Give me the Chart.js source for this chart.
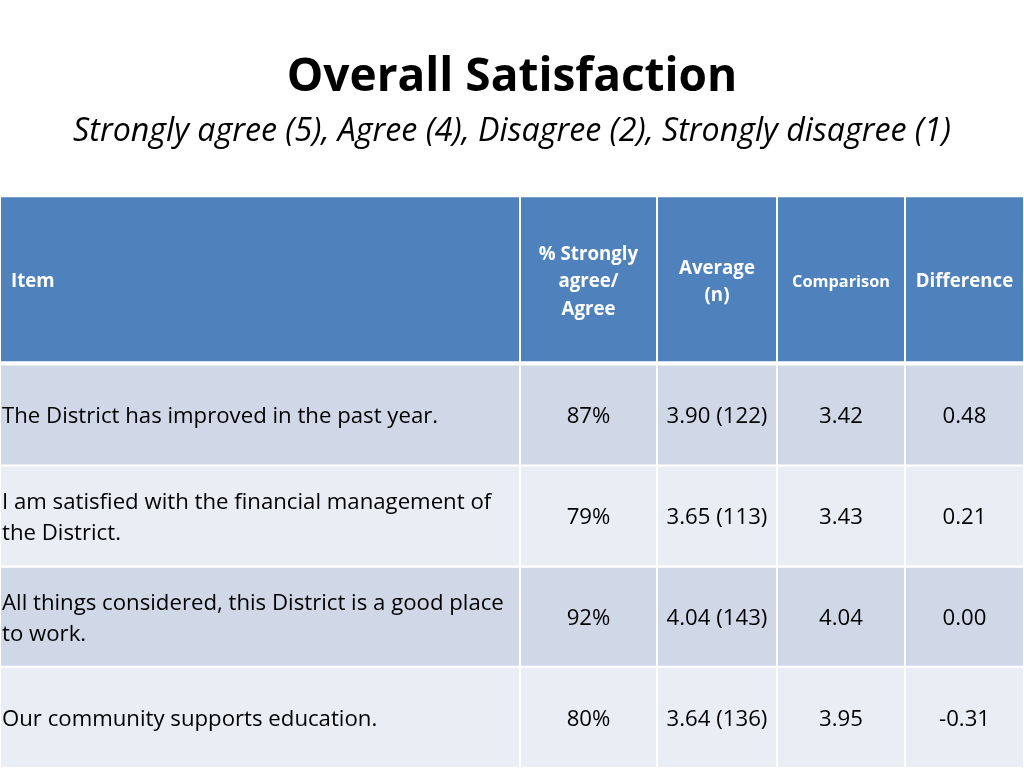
<!DOCTYPE html>
<html>
<head>
<meta charset="utf-8">
<title>Overall Satisfaction</title>
<script src="https://cdn.jsdelivr.net/npm/chart.js@4.4.0/dist/chart.umd.min.js"></script>
<style>
  html, body { margin: 0; padding: 0; background: #fff; }
  #wrap { width: 1024px; height: 768px; position: relative; }
</style>
</head>
<body>
<div id="wrap"><canvas id="tableChart"></canvas></div>
<script>
// Table content
const headers = ['Item', '% Strongly\nagree/\nAgree', 'Average\n(n)', 'Comparison', 'Difference'];
const items = [
    'The District has improved in the past year.',
    'I am satisfied with the financial management of\nthe District.',
    'All things considered, this District is a good place\nto work.',
    'Our community supports education.'
];
const pctAgree = [87, 79, 92, 80];
const averages = [3.90, 3.65, 4.04, 3.64];
const counts = [122, 113, 143, 136];
const comparison = [3.42, 3.43, 4.04, 3.95];
const difference = [0.48, 0.21, 0.00, -0.31];

// Layout of the grid (in scale units, 1 unit = 1px)
const colEdges = [0, 520, 657, 777, 905, 1024];
const rowEdges = [[197, 363], [365, 466], [466, 567], [567, 667], [667, 768]];
const rowColors = ['#4F81BD', '#D0D8E8', '#E9EDF4', '#D0D8E8', '#E9EDF4'];

const FONT = '"Open Sans", Lato, sans-serif';

function rowCenter(r) {
    return (rowEdges[r][0] + rowEdges[r][1]) / 2;
}

// one floating-bar dataset per table row, one bar per cell
const datasets = rowEdges.map((edges, r) => ({
    data: colEdges.slice(0, -1).map((x0, i) => ({ x: [x0, colEdges[i + 1]], y: rowCenter(r) })),
    backgroundColor: rowColors[r],
    borderColor: '#ffffff',
    borderWidth: 1,
    borderSkipped: false,
    inflateAmount: 0,
    barThickness: edges[1] - edges[0],
    stack: 'table'
}));

function bodyCells(r) {
    return [
        items[r],
        pctAgree[r] + '%',
        averages[r].toFixed(2) + ' (' + counts[r] + ')',
        comparison[r].toFixed(2),
        difference[r].toFixed(2)
    ];
}

function drawLines(ctx, text, x, cy, lineH) {
    const lines = text.split('\n');
    const start = cy - (lines.length - 1) * lineH / 2;
    lines.forEach((line, i) => ctx.fillText(line, x, start + i * lineH));
}

// Writes the cell texts at positions taken from the scales
const cellText = {
    id: 'cellText',
    afterDatasetsDraw(chart) {
        const ctx = chart.ctx;
        const xs = chart.scales.x;
        const ys = chart.scales.y;
        ctx.save();
        ctx.textBaseline = 'middle';

        // header row
        ctx.fillStyle = '#ffffff';
        const hy = ys.getPixelForValue(rowCenter(0)) + 3;
        headers.forEach((h, i) => {
            ctx.font = (i === 3 ? 'bold 16.3px ' : 'bold 18.7px ') + FONT;
            if (i === 0) {
                ctx.textAlign = 'left';
                drawLines(ctx, h, xs.getPixelForValue(colEdges[0]) + 11, hy, 27.5);
            } else {
                ctx.textAlign = 'center';
                const cx = xs.getPixelForValue((colEdges[i] + colEdges[i + 1]) / 2);
                drawLines(ctx, h, cx, hy, 27.5);
            }
        });

        // body rows
        ctx.fillStyle = '#000000';
        ctx.font = '22.2px ' + FONT;
        items.forEach((item, r) => {
            const cy = ys.getPixelForValue(rowCenter(r + 1)) + 2;
            bodyCells(r).forEach((txt, i) => {
                if (i === 0) {
                    ctx.textAlign = 'left';
                    drawLines(ctx, txt, xs.getPixelForValue(colEdges[0]) + 2, cy, 31);
                } else {
                    ctx.textAlign = 'center';
                    const cx = xs.getPixelForValue((colEdges[i] + colEdges[i + 1]) / 2);
                    drawLines(ctx, txt, cx, cy, 31);
                }
            });
        });
        ctx.restore();
    }
};

new Chart(document.getElementById('tableChart'), {
    type: 'bar',
    data: { datasets: datasets },
    plugins: [cellText],
    options: {
        indexAxis: 'y',
        responsive: true,
        maintainAspectRatio: false,
        animation: false,
        layout: { padding: 0 },
        scales: {
            x: { type: 'linear', min: 0, max: 1024, display: false, stacked: false, offset: false },
            y: { type: 'linear', min: 197, max: 768, reverse: true, display: false, offset: false, ticks: { maxTicksLimit: 2 } }
        },
        plugins: {
            legend: { display: false },
            tooltip: { enabled: false },
            title: {
                display: true,
                text: 'Overall Satisfaction',
                color: '#000000',
                font: { family: FONT, size: 46, weight: 'bold', lineHeight: 1.2 },
                padding: { top: 50, bottom: 0 }
            },
            subtitle: {
                display: true,
                text: 'Strongly agree (5), Agree (4), Disagree (2), Strongly disagree (1)',
                color: '#000000',
                font: { family: FONT, size: 32.2, style: 'italic', lineHeight: 1.2 },
                padding: { top: 7.5, bottom: 44.7 }
            }
        }
    }
});
</script>
</body>
</html>
